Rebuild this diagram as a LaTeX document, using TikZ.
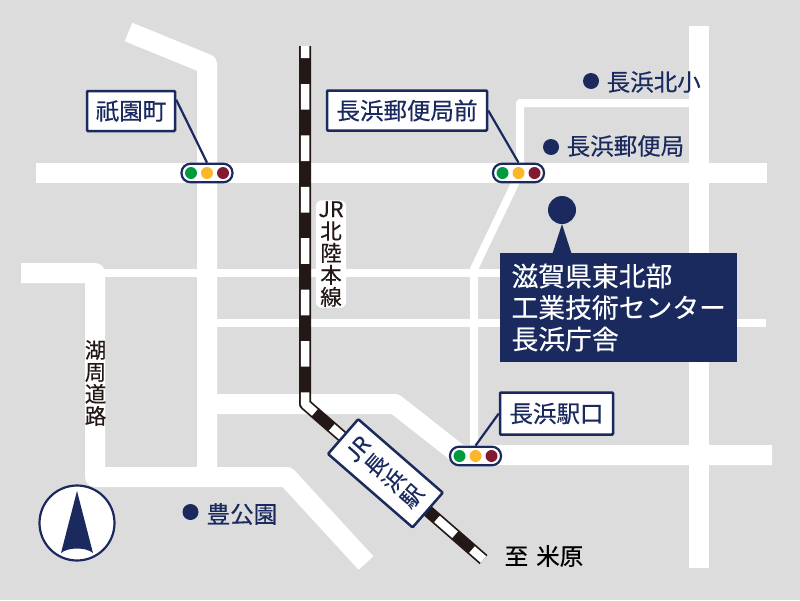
\documentclass[tikz,border=0pt]{standalone}
\usepackage{fontspec}
\setmainfont[FakeBold=0.35]{Noto Sans CJK JP}
\definecolor{navy}{HTML}{1A2A5E}
\definecolor{ground}{HTML}{DCDCDC}
\definecolor{raildark}{HTML}{231815}
\definecolor{siggreen}{HTML}{009B3E}
\definecolor{sigyellow}{HTML}{FBB62A}
\definecolor{sigred}{HTML}{821A33}

\begin{document}
\begin{tikzpicture}[x=1pt, y=-1pt,
		road/.style={draw=white, line width=20pt, line join=round},
		lane/.style={draw=white, line width=8pt, line join=round},
		place/.style={text=navy, inner sep=0pt, anchor=west, font=\fontsize{23.5}{26}\selectfont},
		stopname/.style={draw=navy, fill=white, line width=2.5pt, rounded corners=1pt, text=navy, inner sep=0pt, font=\fontsize{23.5}{26}\selectfont},
		signal/.style={draw=navy, fill=white, line width=2.2pt, rounded corners=9pt, minimum width=51pt, minimum height=18.5pt, inner sep=0pt},
		lamp/.style={circle, minimum size=12pt, inner sep=0pt},
		spot/.style={circle, fill=navy, minimum size=16pt, inner sep=0pt},
		linename/.style={text=raildark, inner sep=0pt, align=center, font=\fontsize{21.5}{22}\selectfont}]
	\useasboundingbox (0,0) rectangle (800,600);
	\fill[ground] (0,0) rectangle (800,600);
	% roads
	\draw[road] (36,173) -- (767,173);
	\draw[road] (699,26) -- (699,568);
	\draw[road] (128.5,32) -- (207,64) -- (207,477);
	\draw[road] (21,273) -- (95,273) -- (95,477) -- (287,477) -- (366,563);
	\draw[road] (207,404) -- (395,404) -- (460,455) -- (772,455);
	\draw[lane] (95,273) -- (510,273);
	\draw[lane] (207,323) -- (766,323);
	\draw[lane] (699,103) -- (520,103) -- (520,173) -- (474,269) -- (474,455);
	% railway
	\draw[raildark, line width=12pt, line join=round] (305,46) -- (305,404) -- (483.5,559.5);
	\draw[white, line width=8.5pt, line join=round, dash pattern=on 12pt off 26pt on 25.7pt off 25.7pt on 25.7pt off 25.7pt on 25.7pt off 25.7pt on 25.7pt off 25.7pt on 25.7pt off 25.7pt on 25.6pt off 25.8pt on 24.6pt off 22.5pt on 24pt off 22.5pt on 24pt off 22.5pt on 24pt off 22.5pt on 24pt off 22.5pt on 24pt off 200pt] (305,46) -- (305,404) -- (483.5,559.5);
	\node[rotate=49, draw=navy, fill=white, line width=2.5pt, rounded corners=1pt, minimum width=46pt, minimum height=112pt, inner sep=0pt, align=center, text=navy, font=\fontsize{22}{24}\selectfont] (station) at (385.4,473.3) {JR\\長\\浜\\駅};
	\node[linename, fill=white, rounded corners=6pt, inner xsep=2.5pt, inner ysep=1pt] (railname) at (331,254) {JR\\北\\陸\\本\\線};
	\node[linename] (lakename) at (95.5,383) {湖\\周\\道\\路};
	\node[text=black, inner sep=0pt, anchor=west, font=\fontsize{23.5}{26}\selectfont] (toward) at (504.5,556) {至\hspace{8pt}米原};
	% stop names
	\node[stopname, minimum width=88pt, minimum height=40pt] (gion) at (131,111) {祇園町};
	\node[stopname, minimum width=160pt, minimum height=40pt] (post) at (407,110.5) {長浜郵便局前};
	\node[stopname, minimum width=113pt, minimum height=42pt] (exit) at (556.5,413.5) {長浜駅口};
	% signals
	\foreach[count=\i] \sx/\sy in {207/173,518.5/173,475.5/456} {
		\node[signal] (sig-\i) at (\sx,\sy) {};
		\node[lamp, fill=siggreen] (sig-\i-a) at (\sx-16,\sy) {};
		\node[lamp, fill=sigyellow] (sig-\i-b) at (\sx,\sy) {};
		\node[lamp, fill=sigred] (sig-\i-c) at (\sx+16,\sy) {};
	}
	\draw[navy, line width=2.2pt] (gion.14) -- (sig-1.north);
	\draw[navy, line width=2.2pt] (post.east) -- (sig-2.north);
	\draw[navy, line width=2.2pt] (exit.west) -- (sig-3.north);
	% places
	\node[spot] (dot-school) at (591,81) {};
	\node[place] (school) at (606.5,82) {長浜北小};
	\node[spot] (dot-office) at (551,147) {};
	\node[place] (office) at (566.5,146) {長浜郵便局};
	\node[spot] (dot-park) at (190.5,512) {};
	\node[place] (park) at (206.5,514) {豊公園};
	% target
	\fill[navy] (562,224) -- (572,255) -- (552,255) -- cycle;
	\node[circle, fill=navy, minimum size=28pt, inner sep=0pt] (target) at (562,210) {};
	\node[fill=navy, text=white, minimum width=237pt, minimum height=109pt, inner sep=0pt, text width=214pt, align=left, font=\fontsize{26.8}{31.5}\selectfont] (center) at (618.5,307.5) {滋賀県東北部\\工業技術センター\\長浜庁舎};
	% north mark
	\node[circle, draw=navy, fill=white, line width=2.2pt, minimum size=75pt, inner sep=0pt] (north) at (77,523) {};
	\fill[navy] (77,491) -- (93,553) .. controls (86,547) and (68,547) .. (61,553) -- cycle;
\end{tikzpicture}
\end{document}
